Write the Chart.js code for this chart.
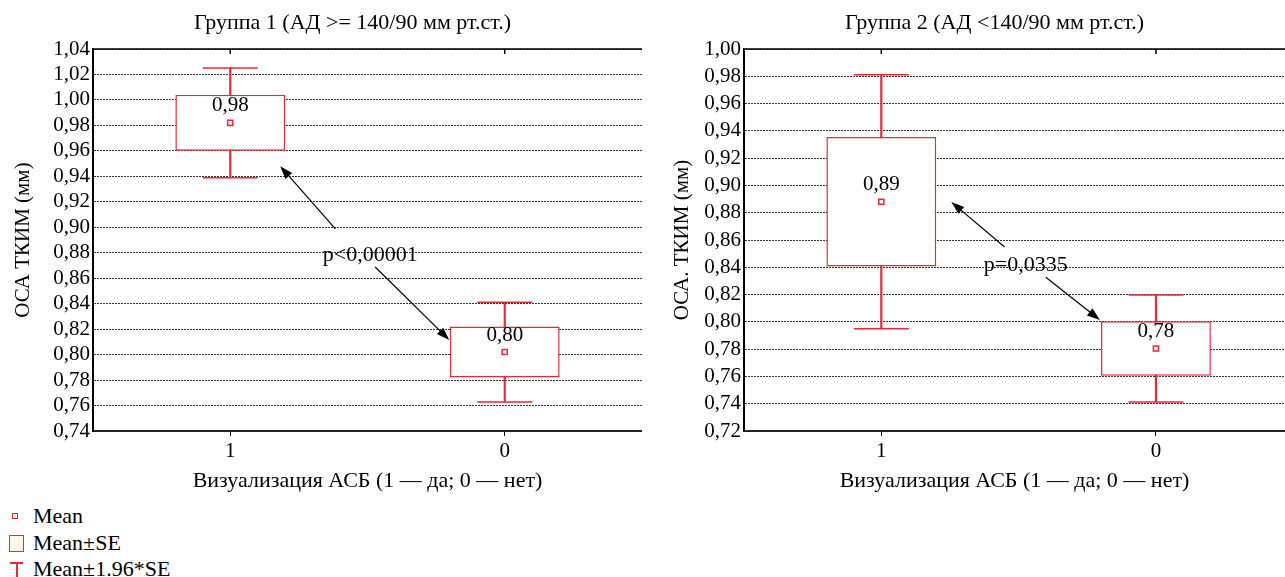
<!DOCTYPE html>
<html>
<head>
<meta charset="utf-8">
<script src="https://cdn.jsdelivr.net/npm/chart.js@4.4.1/dist/chart.umd.min.js"></script>
<style>
  body { margin: 0; width: 1285px; height: 577px; overflow: hidden; background: #fff; font-family: "Liberation Serif", serif; }
  .panel { position: absolute; top: 0; height: 500px; }
  #p1 { left: 0; width: 642px; }
  #p2 { left: 642px; width: 643px; }
  .row { position: absolute; left: 33px; height: 24px; line-height: 24px; font-size: 22px; color: #000; white-space: nowrap; }
  .ic { position: absolute; box-sizing: border-box; }
</style>
</head>
<body>
<div class="panel" id="p1"><canvas id="c1"></canvas></div>
<div class="panel" id="p2"><canvas id="c2"></canvas></div>

<div class="ic" style="left:12px;top:513px;width:6px;height:6px;border:1.5px solid #e62a36;"></div>
<div class="row" style="top:504px;">Mean</div>
<div class="ic" style="left:9px;top:535px;width:15px;height:17px;border:1.5px solid #e62a36;background:#fff6ea;"></div>
<div class="row" style="top:531px;">Mean±SE</div>
<div class="ic" style="left:10px;top:562px;width:13px;height:1.5px;background:#e62a36;"></div>
<div class="ic" style="left:16px;top:562px;width:1.5px;height:15px;background:#e62a36;"></div>
<div class="row" style="top:557px;">Mean±1.96*SE</div>

<script>
const categories = ['1', '0'];
const xTitle = 'Визуализация АСБ (1 — да; 0 — нет)';

const group1Title = 'Группа 1 (АД >= 140/90 мм рт.ст.)';
const group1YTitle = 'ОСА ТКИМ (мм)';
const group1Mean = [0.982, 0.802];
const group1SE = [0.022, 0.020];
const group1Ticks = [0.74, 0.76, 0.78, 0.80, 0.82, 0.84, 0.86, 0.88, 0.90, 0.92, 0.94, 0.96, 0.98, 1.00, 1.02, 1.04];
const group1P = 'p<0,00001';

const group2Title = 'Группа 2 (АД <140/90 мм рт.ст.)';
const group2YTitle = 'ОСА. ТКИМ (мм)';
const group2Mean = [0.888, 0.7805];
const group2SE = [0.0475, 0.020];
const group2Ticks = [0.72, 0.74, 0.76, 0.78, 0.80, 0.82, 0.84, 0.86, 0.88, 0.90, 0.92, 0.94, 0.96, 0.98, 1.00];
const group2P = 'p=0,0335';

const RED = '#e62a36';
const FONT = 'Liberation Serif';

function fmt(v) {
  return v.toFixed(2).replace('.', ',');
}

function makePanel(id, cfg) {
  const boxes = cfg.mean.map((m, i) => ({ x: i, y: [m - cfg.se[i], m + cfg.se[i]] }));
  const stems = cfg.mean.map((m, i) => ({ x: i, y: [m - 1.96 * cfg.se[i], m + 1.96 * cfg.se[i]] }));
  const caps = stems.flatMap(s => [{ x: s.x, y: s.y[0] }, { x: s.x, y: s.y[1] }]);
  const means = cfg.mean.map((m, i) => ({ x: i, y: m }));

  // frame, mean labels, p-value note with arrows, panel title
  const decor = {
    id: 'decor',
    beforeDatasetsDraw(chart) {
      const { ctx, chartArea: a, scales: { x } } = chart;
      ctx.save();
      ctx.strokeStyle = '#000';
      ctx.lineWidth = 1.5;
      ctx.beginPath();
      ctx.moveTo(a.left, a.top);
      ctx.lineTo(a.right, a.top);
      categories.forEach((c, i) => {
        const px = x.getPixelForValue(i);
        ctx.moveTo(px, a.top);
        ctx.lineTo(px, a.top + 5);
      });
      ctx.stroke();
      ctx.restore();
    },
    afterDatasetsDraw(chart) {
      const { ctx, scales: { x, y } } = chart;
      ctx.save();
      ctx.fillStyle = '#000';
      ctx.textAlign = 'center';
      ctx.textBaseline = 'middle';
      ctx.font = '21px "' + FONT + '"';
      cfg.mean.forEach((m, i) => {
        ctx.fillText(fmt(m), x.getPixelForValue(i), y.getPixelForValue(m) - 17);
      });
      ctx.font = '22px "' + FONT + '"';
      ctx.fillText(cfg.p, x.getPixelForValue(cfg.pAt[0]), y.getPixelForValue(cfg.pAt[1]));
      ctx.strokeStyle = '#000';
      ctx.lineWidth = 1.2;
      cfg.arrows.forEach(([from, to]) => {
        const x1 = x.getPixelForValue(from[0]), y1 = y.getPixelForValue(from[1]);
        const x2 = x.getPixelForValue(to[0]), y2 = y.getPixelForValue(to[1]);
        const ang = Math.atan2(y2 - y1, x2 - x1);
        ctx.beginPath();
        ctx.moveTo(x1, y1);
        ctx.lineTo(x2 - 8 * Math.cos(ang), y2 - 8 * Math.sin(ang));
        ctx.stroke();
        ctx.beginPath();
        ctx.moveTo(x2, y2);
        ctx.lineTo(x2 - 13 * Math.cos(ang) + 4.5 * Math.sin(ang), y2 - 13 * Math.sin(ang) - 4.5 * Math.cos(ang));
        ctx.lineTo(x2 - 13 * Math.cos(ang) - 4.5 * Math.sin(ang), y2 - 13 * Math.sin(ang) + 4.5 * Math.cos(ang));
        ctx.closePath();
        ctx.fill();
      });
      ctx.restore();
    },
    afterDraw(chart) {
      const { ctx, chartArea: a } = chart;
      ctx.save();
      ctx.fillStyle = '#000';
      ctx.textAlign = 'center';
      ctx.textBaseline = 'middle';
      ctx.font = '22px "' + FONT + '"';
      ctx.fillText(cfg.title, (a.left + a.right) / 2 - cfg.titleShift, 23);
      ctx.restore();
    }
  };

  new Chart(document.getElementById(id), {
    type: 'bar',
    data: {
      datasets: [
        {
          type: 'scatter', data: means, pointStyle: 'rect', pointRadius: 3.6,
          backgroundColor: '#fff', borderColor: RED, borderWidth: 1.5, order: 0
        },
        {
          data: boxes, backgroundColor: '#fff', borderColor: RED, borderWidth: 1.5,
          borderSkipped: false, barPercentage: 0.4, categoryPercentage: 1, grouped: false, order: 1
        },
        {
          type: 'scatter', data: caps, pointStyle: 'line', pointRadius: 27.5,
          borderColor: RED, borderWidth: 1.5, order: 2
        },
        {
          data: stems, backgroundColor: RED, barThickness: 1.5, grouped: false, order: 3
        }
      ]
    },
    options: {
      responsive: true,
      maintainAspectRatio: false,
      animation: false,
      events: [],
      layout: { autoPadding: false, padding: { top: 49, left: 0, right: 0, bottom: 0 } },
      plugins: {
        legend: { display: false },
        tooltip: { enabled: false },
        title: { display: false }
      },
      scales: {
        x: {
          type: 'linear',
          min: -0.5,
          max: cfg.xMax,
          offset: false,
          afterBuildTicks: s => { s.ticks = categories.map((c, i) => ({ value: i })); },
          afterFit: s => { s.height = 69; },
          ticks: {
            callback: v => categories[v],
            font: { family: FONT, size: 21 },
            color: '#000', padding: 3, maxRotation: 0, autoSkip: false
          },
          grid: { drawOnChartArea: false, drawTicks: true, tickLength: 5, tickColor: '#000', offset: false },
          border: { display: true, color: '#222', width: 2 },
          title: {
            display: true, text: xTitle, color: '#000',
            font: { family: FONT, size: 22 }, padding: { top: 0, bottom: 6 }
          }
        },
        y: {
          type: 'linear',
          min: cfg.ticks[0],
          max: cfg.ticks[cfg.ticks.length - 1],
          afterBuildTicks: s => { s.ticks = cfg.ticks.map(v => ({ value: v })); },
          afterFit: s => { s.width = cfg.yWidth; },
          ticks: {
            callback: v => fmt(v),
            font: { family: FONT, size: 21 },
            color: '#000', padding: 3, autoSkip: false
          },
          grid: { color: '#333', lineWidth: 1, drawTicks: false },
          border: { display: true, color: '#000', width: 2, dash: [2, 1] },
          title: {
            display: true, text: cfg.yTitle, color: '#000',
            font: { family: FONT, size: 21 }, padding: { top: cfg.yTitlePad, bottom: 0 }
          }
        }
      }
    },
    plugins: [decor]
  });
}

makePanel('c1', {
  mean: group1Mean, se: group1SE, ticks: group1Ticks,
  title: group1Title, yTitle: group1YTitle, p: group1P,
  xMax: 1.5, yWidth: 93, yTitlePad: 11, titleShift: 15,
  pAt: [0.51, 0.878],
  arrows: [[[0.383, 0.8987], [0.182, 0.948]], [[0.528, 0.8688], [0.798, 0.8115]]]
});

makePanel('c2', {
  mean: group2Mean, se: group2SE, ticks: group2Ticks,
  title: group2Title, yTitle: group2YTitle, p: group2P,
  xMax: 1.47, yWidth: 102, yTitlePad: 28, titleShift: 20,
  pAt: [0.526, 0.8417],
  arrows: [[[0.449, 0.8549], [0.255, 0.8879]], [[0.599, 0.8327], [0.796, 0.8014]]]
});
</script>
</body>
</html>
